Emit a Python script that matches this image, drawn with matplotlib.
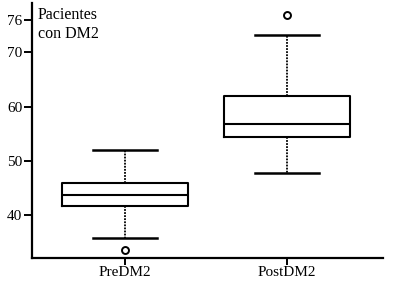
import matplotlib
matplotlib.use("Agg")
import matplotlib.pyplot as plt

# Datos
grupos = ['PreDM2', 'PostDM2']
q1 = [41.7, 54.3]
mediana = [43.7, 56.7]
q3 = [45.9, 62.0]
bigote_inf = [35.7, 47.8]
bigote_sup = [51.9, 73.1]
atipicos = [[33.6], [76.9]]
yticks = [40, 50, 60, 70, 76]

plt.rcParams['font.family'] = ['Liberation Serif', 'DejaVu Serif']

stats = []
for i, g in enumerate(grupos):
    stats.append({'label': g, 'q1': q1[i], 'med': mediana[i], 'q3': q3[i],
                  'whislo': bigote_inf[i], 'whishi': bigote_sup[i],
                  'fliers': atipicos[i]})

fig = plt.figure(figsize=(4, 2.91), dpi=100)
ax = fig.add_axes([0.08, 0.1134, 0.8775, 0.8766])

ax.bxp(stats, positions=[1, 2], widths=0.78, capwidths=0.39,
       boxprops=dict(color='black', linewidth=1.5),
       medianprops=dict(color='black', linewidth=1.5),
       whiskerprops=dict(color='black', linewidth=1.3, linestyle=(0, (1.0, 0.7))),
       capprops=dict(color='black', linewidth=1.8),
       flierprops=dict(marker='o', markersize=5, markerfacecolor='white',
                       markeredgecolor='black', markeredgewidth=1.4))

ax.set_xlim(0.426, 2.593)
ax.set_ylim(32.07, 79.1)
ax.set_yticks(yticks)
ax.set_yticklabels([str(t) for t in yticks])

for s in ['top', 'right']:
    ax.spines[s].set_visible(False)
for s in ['left', 'bottom']:
    ax.spines[s].set_linewidth(1.6)

ax.tick_params(axis='y', length=6, width=1.4, pad=1, labelsize=11)
ax.tick_params(axis='x', length=5, width=1.4, pad=1, labelsize=11)

ax.text(0.017, 0.985, 'Pacientes\ncon DM2', transform=ax.transAxes,
        ha='left', va='top', fontsize=11.5, linespacing=1.3)

fig.savefig('out.png', dpi=100)
